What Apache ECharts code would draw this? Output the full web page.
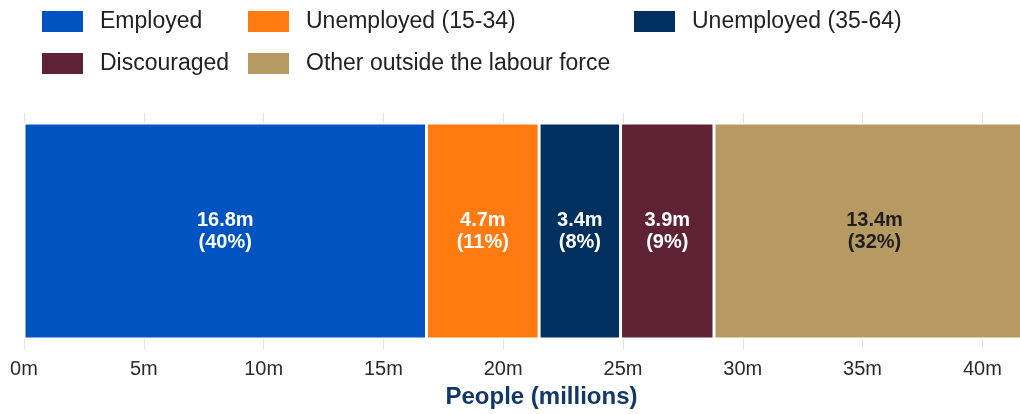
<!DOCTYPE html>
<html>
<head>
<meta charset="utf-8">
<script src="https://cdn.jsdelivr.net/npm/echarts@6/dist/echarts.min.js"></script>
<style>
  html, body { margin: 0; padding: 0; overflow: hidden; background: #fff; }
  /* plot is a bit wider than the window, the right end gets cut off like the original */
  #chart { width: 1059px; height: 414px; }
</style>
</head>
<body>
<div id="chart"></div>
<script>
var categories = ['Employed', 'Unemployed (15-34)', 'Unemployed (35-64)', 'Discouraged', 'Other outside the labour force'];
var peopleMillions = [16.8, 4.7, 3.4, 3.9, 13.4];
var colors = ['#0054c2', '#ff7b11', '#003060', '#5f2234', '#b79a62'];
var labelColors = ['#fff', '#fff', '#fff', '#fff', '#1e1e1e'];
var xMax = 43.2;

var total = peopleMillions.reduce(function (a, b) { return a + b; }, 0);
var font = '"Liberation Sans", Arial, sans-serif';

// legend laid out as two rows, three columns
var legendPos = [[40, 9], [246, 9], [632, 9], [40, 51], [246, 51]];

var chart = echarts.init(document.getElementById('chart'));

var option = {
  animation: false,
  color: colors,
  legend: categories.map(function (name, i) {
    return {
      data: [name],
      left: legendPos[i][0],
      top: legendPos[i][1],
      padding: 0,
      itemWidth: 43,
      itemHeight: 23,
      icon: 'rect',
      textStyle: {
        fontFamily: font,
        fontSize: 23,
        color: '#222',
        lineHeight: 22,
        padding: [0, 0, 0, 11]
      }
    };
  }),
  grid: {
    left: 24,
    right: 0,
    top: 113,
    bottom: 64
  },
  xAxis: {
    type: 'value',
    min: 0,
    max: xMax,
    interval: 5,
    name: 'People (millions)',
    nameLocation: 'middle',
    nameGap: 36,
    nameTextStyle: {
      fontFamily: font,
      fontSize: 24,
      fontWeight: 'bold',
      color: '#12386a'
    },
    axisLine: { show: false },
    axisTick: { show: false },
    axisLabel: {
      margin: 10,
      fontFamily: font,
      fontSize: 20,
      color: '#2a2a2a',
      showMaxLabel: false,
      formatter: function (v) { return v + 'm'; }
    },
    splitLine: {
      lineStyle: { color: '#e2e2e2', width: 1 }
    }
  },
  yAxis: {
    type: 'category',
    data: ['people'],
    show: false
  },
  series: categories.map(function (name, i) {
    return {
      name: name,
      type: 'bar',
      stack: 'all',
      barWidth: 216,
      data: [peopleMillions[i]],
      itemStyle: {
        color: colors[i],
        borderColor: '#fff',
        borderWidth: 1.5
      },
      label: {
        show: true,
        position: 'inside',
        fontFamily: font,
        fontSize: 20,
        fontWeight: 'bold',
        lineHeight: 22,
        color: labelColors[i],
        formatter: function (p) {
          return p.value.toFixed(1) + 'm\n(' + Math.round(p.value / total * 100) + '%)';
        }
      }
    };
  })
};

chart.setOption(option);
</script>
</body>
</html>
